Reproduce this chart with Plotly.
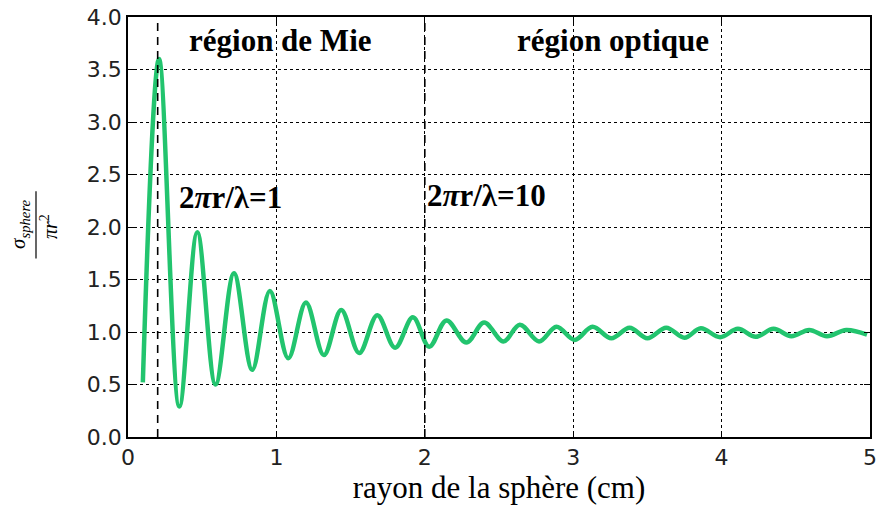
import plotly.graph_objects as go

# ── Data (start, successive maxima/minima, end) ──
RADIUS_CM = [0.10, 0.209, 0.346, 0.467, 0.59, 0.714, 0.837, 0.956, 1.08, 1.199,
             1.32, 1.437, 1.558, 1.68, 1.80, 1.92, 2.03, 2.146, 2.28, 2.40,
             2.53, 2.64, 2.77, 2.887, 3.01, 3.13, 3.257, 3.38, 3.50, 3.627,
             3.75, 3.86, 3.99, 4.11, 4.23, 4.35, 4.47, 4.59, 4.71, 4.84, 4.98]
SIGMA_RATIO = [0.52, 3.60, 0.29, 1.95, 0.50, 1.56, 0.64, 1.39, 0.75, 1.28,
               0.78, 1.21, 0.80, 1.16, 0.85, 1.14, 0.86, 1.11, 0.90, 1.09,
               0.91, 1.07, 0.91, 1.05, 0.925, 1.05, 0.94, 1.04, 0.94, 1.04,
               0.945, 1.035, 0.95, 1.03, 0.955, 1.03, 0.96, 1.02, 0.96, 1.02, 0.975]

REGION_LIMITS = [0.2, 2.0]
Y_TICKS = [0.0, 0.5, 1.0, 1.5, 2.0, 2.5, 3.0, 3.5, 4.0]
X_TICKS = [0, 1, 2, 3, 4, 5]

GREEN = '#22c46e'
SERIF = 'Liberation Serif, Times New Roman, serif'
SANS = 'DejaVu Sans, sans-serif'

FIG_W, FIG_H = 876, 513
M_L, M_R, M_T, M_B = 128, 6, 17, 76

fig = go.Figure()

fig.add_trace(go.Scatter(
    x=RADIUS_CM, y=SIGMA_RATIO, mode='lines',
    line=dict(color=GREEN, width=4.5, shape='spline', smoothing=1.0),
    showlegend=False,
))

for xv in REGION_LIMITS:
    fig.add_vline(x=xv, line_color='black', line_width=1.6,
                  line_dash='8px,6px', layer='above')

axis_style = dict(
    showline=True, linecolor='black', linewidth=1.5, mirror='allticks',
    ticks='inside', ticklen=6, tickcolor='black', tickwidth=1,
    showgrid=True, gridcolor='black', griddash='dot', gridwidth=1,
    zeroline=False, automargin=False, ticklabeloverflow='allow',
    tickfont=dict(family=SANS, size=22, color='#222'),
)

fig.update_xaxes(range=[0, 5], tickvals=X_TICKS, ticktext=[str(v) for v in X_TICKS],
                 title=dict(text='rayon de la sphère (cm)',
                            font=dict(family=SERIF, size=31, color='black'),
                            standoff=0),
                 **axis_style)
fig.update_yaxes(range=[0, 4], tickvals=Y_TICKS, tickformat='.1f', **axis_style)

# region labels
ann_font = dict(family=SERIF, size=31, color='black')
fig.add_annotation(x=1.03, y=3.78, text='<b>région de Mie</b>', showarrow=False,
                   font=ann_font, xanchor='center', yanchor='middle')
fig.add_annotation(x=3.27, y=3.78, text='<b>région optique</b>', showarrow=False,
                   font=ann_font, xanchor='center', yanchor='middle')
fig.add_annotation(x=0.33, y=2.28, text='<b>2<i>π</i>r/λ=1</b>', showarrow=False,
                   font=ann_font, xanchor='left', yanchor='middle')
fig.add_annotation(x=2.0, y=2.30, text='<b>2<i>π</i>r/λ=10</b>', showarrow=False,
                   font=ann_font, xanchor='left', yanchor='middle')

# y-axis label as a rotated fraction (positions given in window pixels)
PLOT_W = FIG_W - M_L - M_R
def px(p):
    return (p - M_L) / PLOT_W

fig.add_annotation(xref='paper', yref='paper', x=px(19), y=0.505,
                   text='<i>σ<sub>sphere</sub></i>', showarrow=False, textangle=-90,
                   font=dict(family=SERIF, size=21, color='black'),
                   xanchor='center', yanchor='middle')
fig.add_annotation(xref='paper', yref='paper', x=px(49), y=0.50,
                   text='<i>πr</i><sup>2</sup>', showarrow=False, textangle=-90,
                   font=dict(family=SERIF, size=20, color='black'),
                   xanchor='center', yanchor='middle')
fig.add_shape(type='line', xref='paper', yref='paper',
              x0=px(36), x1=px(36), y0=0.425, y1=0.585,
              line=dict(color='black', width=1.2))

fig.update_layout(
    width=FIG_W, height=FIG_H,
    margin=dict(l=M_L, r=M_R, t=M_T, b=M_B),
    paper_bgcolor='white', plot_bgcolor='white',
)

# drop the default 8px page margin so the figure fills the window exactly
fig.write_html('out.html',
               config={'displayModeBar': False},
               post_script="document.body.style.margin='0';"
                           "document.body.style.overflow='hidden';")
